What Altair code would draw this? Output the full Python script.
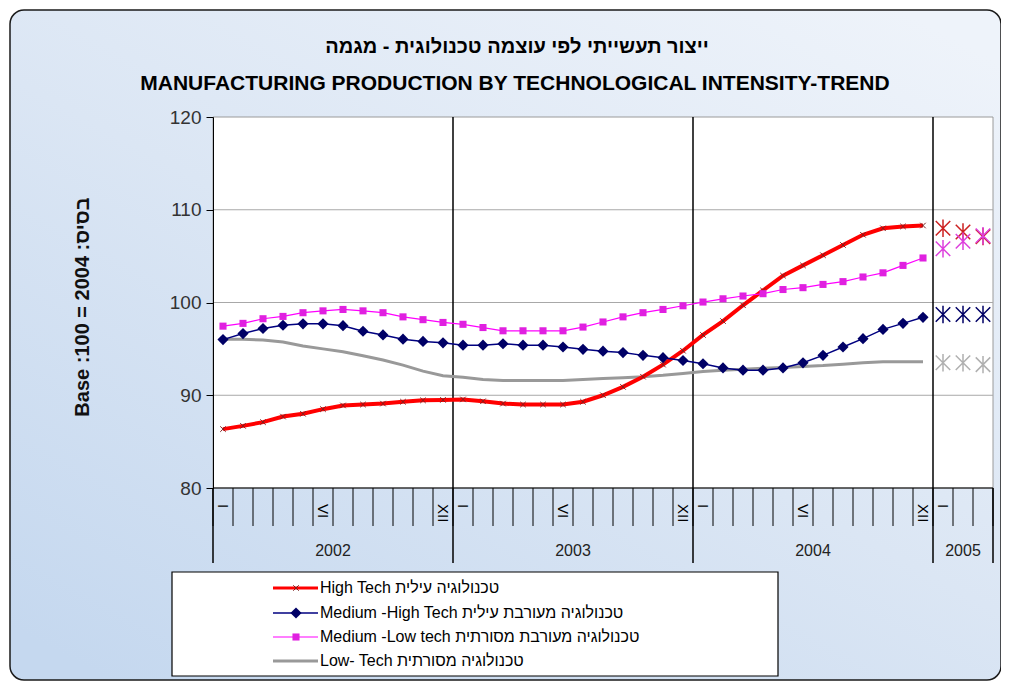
import altair as alt
import pandas as pd

FONT = "Liberation Sans"

# ---------------- data ----------------
series = ["High Tech", "Medium -High Tech", "Medium -Low tech", "Low- Tech"]
legend_text = [
    "High Tech  טכנולוגיה עילית",
    " Medium -High Tech  טכנולוגיה מעורבת עילית",
    "Medium -Low tech טכנולוגיה מעורבת מסורתית",
    "Low- Tech  טכנולוגיה מסורתית",
]
title_he = "ייצור תעשייתי לפי עוצמה טכנולוגית - מגמה"
title_en = "MANUFACTURING PRODUCTION BY TECHNOLOGICAL INTENSITY-TREND"
y_title = "Base :100 = 2004  :בסיס"

years = ["2002", "2003", "2004", "2005"]
months_in_year = [12, 12, 12, 3]
roman = {0: "I", 5: "VI", 11: "XII"}
y_ticks = [80, 90, 100, 110, 120]
grid_vals = [90, 100, 110]

# monthly trend, Jan 2002 - Dec 2004
high_tech = [86.35, 86.7, 87.1, 87.7, 88.0, 88.5, 88.9, 89.0, 89.1, 89.3, 89.45, 89.5,
             89.55, 89.35, 89.1, 89.0, 89.0, 89.0, 89.3, 90.0, 90.9, 92.0, 93.3, 94.8,
             96.5, 98.0, 99.7, 101.3, 102.9, 104.0, 105.1, 106.2, 107.3, 108.0, 108.2, 108.3]
med_high = [96.0, 96.65, 97.2, 97.55, 97.7, 97.7, 97.5, 96.9, 96.5, 96.05, 95.8, 95.65,
            95.4, 95.4, 95.55, 95.4, 95.4, 95.2, 94.95, 94.75, 94.6, 94.3, 94.05, 93.75,
            93.4, 92.95, 92.7, 92.7, 92.95, 93.5, 94.3, 95.2, 96.1, 97.1, 97.75, 98.4]
med_low = [97.45, 97.75, 98.25, 98.5, 98.9, 99.1, 99.25, 99.1, 98.9, 98.45, 98.15, 97.85,
           97.65, 97.3, 96.95, 96.95, 96.95, 96.95, 97.35, 97.9, 98.45, 98.9, 99.25, 99.65,
           100.05, 100.4, 100.7, 100.95, 101.4, 101.6, 101.95, 102.25, 102.75, 103.2, 104.0, 104.8]
low_tech = [96.05, 96.05, 95.95, 95.75, 95.3, 95.0, 94.7, 94.25, 93.8, 93.25, 92.6, 92.1,
            91.95, 91.7, 91.6, 91.6, 91.6, 91.6, 91.7, 91.8, 91.9, 92.0, 92.15, 92.35,
            92.55, 92.7, 92.8, 92.9, 93.0, 93.1, 93.2, 93.35, 93.5, 93.6, 93.6, 93.6]

# 2005 points (Jan - Mar)
high_tech_2005 = [108.0, 107.6, 107.1]
med_high_2005 = [98.7, 98.7, 98.7]
med_low_2005 = [105.8, 106.6, 107.2]
low_tech_2005 = [93.5, 93.5, 93.3]

# ---------------- tables ----------------
trend_vals = [high_tech, med_high, med_low, low_tech]
vals_2005 = [high_tech_2005, med_high_2005, med_low_2005, low_tech_2005]

def trend_df(k):
    return pd.DataFrame({"t": [i + 0.5 for i in range(len(trend_vals[k]))],
                         "v": trend_vals[k], "series": series[k]})

def df2005(k):
    return pd.DataFrame({"t": [36 + i + 0.5 for i in range(len(vals_2005[k]))],
                         "v": vals_2005[k], "series": series[k]})

n_months = sum(months_in_year)
month_rows, year_rows = [], []
start = 0
for yi, n in enumerate(months_in_year):
    for m in range(n):
        if m in roman:
            month_rows.append({"t": start + m + 0.5, "lab": roman[m]})
    year_rows.append({"t": start + n / 2, "lab": years[yi]})
    start += n
month_df = pd.DataFrame(month_rows)
year_df = pd.DataFrame(year_rows)
bounds_df = pd.DataFrame({"b": list(range(n_months + 1))})
inner_sep = pd.DataFrame({"b": [12, 24, 36]})
outer_sep = pd.DataFrame({"b": [0, n_months]})
grid_df = pd.DataFrame({"g": grid_vals})
one = pd.DataFrame({"a": [0]})

# ---------------- scales ----------------
W, H = 780, 371
xs = alt.Scale(domain=[0, n_months], nice=False, zero=False)
ys = alt.Scale(domain=[80, 120], nice=False, zero=False)
yaxis = alt.Axis(values=y_ticks, title=None, grid=False, domainColor="black",
                 tickColor="black", tickSize=7, labelFontSize=19, labelColor="#333333",
                 labelFont=FONT, labelPadding=5, zindex=1)

def X(f):
    return alt.X(f, scale=xs, axis=None)

def Y(f):
    return alt.Y(f, scale=ys, axis=yaxis)

X_PATH = "M-1,-1L1,1M-1,1L1,-1"
STAR_PATH = "M-1,-1L1,1M-1,1L1,-1M0,-1.2L0,1.2"

layers = []

# frame with gradient
layers.append(alt.Chart(one).mark_rect(
    cornerRadius=14, stroke="#1a1a1a", strokeWidth=1.5,
    fill=alt.LinearGradient(gradient="linear", x1=0.9, y1=0, x2=0.1, y2=1,
                            stops=[alt.GradientStop(color="#eef3fa", offset=0),
                                   alt.GradientStop(color="#dbe6f4", offset=0.5),
                                   alt.GradientStop(color="#c5d8ef", offset=1)])
).encode(x=alt.value(-203), x2=alt.value(788), y=alt.value(-107), y2=alt.value(563)))

# plot area
layers.append(alt.Chart(one).mark_rect(fill="white", stroke="#9a9a9a", strokeWidth=1).encode(
    x=alt.value(0), x2=alt.value(W), y=alt.value(0), y2=alt.value(H)))

# gridlines
layers.append(alt.Chart(grid_df).mark_rule(color="#a8a8a8", strokeWidth=1).encode(
    y=Y("g:Q"), x=alt.value(0), x2=alt.value(W)))

# month ticks
layers.append(alt.Chart(bounds_df).mark_rule(color="black", strokeWidth=1).encode(
    x=X("b:Q"), y=alt.value(H), y2=alt.value(H + 38)))
# x axis line
layers.append(alt.Chart(one).mark_rule(color="black", strokeWidth=1.2).encode(
    x=alt.value(0), x2=alt.value(W), y=alt.value(H)))
# year separators
layers.append(alt.Chart(inner_sep).mark_rule(color="black", strokeWidth=1.5).encode(
    x=X("b:Q"), y=alt.value(0), y2=alt.value(H + 75)))
layers.append(alt.Chart(outer_sep).mark_rule(color="black", strokeWidth=1.5).encode(
    x=X("b:Q"), y=alt.value(H), y2=alt.value(H + 75)))

# month labels
layers.append(alt.Chart(month_df).mark_text(angle=90, align="left", baseline="middle",
                                            fontSize=15, font=FONT, color="black").encode(
    x=X("t:Q"), y=alt.value(H + 16), text="lab:N"))
# year labels
layers.append(alt.Chart(year_df).mark_text(align="center", baseline="middle",
                                           fontSize=16, font=FONT, color="#222222").encode(
    x=X("t:Q"), y=alt.value(H + 63), text="lab:N"))

# data lines
layers.append(alt.Chart(trend_df(3)).mark_line(color="#999999", strokeWidth=3).encode(
    x=X("t:Q"), y=Y("v:Q")))
layers.append(alt.Chart(trend_df(0)).mark_line(color="#ff0000", strokeWidth=4).encode(
    x=X("t:Q"), y=Y("v:Q")))
layers.append(alt.Chart(trend_df(0)).mark_point(shape=X_PATH, filled=False, color="#7a2020",
                                                size=30, strokeWidth=1, opacity=1).encode(
    x=X("t:Q"), y=Y("v:Q")))
layers.append(alt.Chart(trend_df(1)).mark_line(color="#000080", strokeWidth=1.5).encode(
    x=X("t:Q"), y=Y("v:Q")))
layers.append(alt.Chart(trend_df(1)).mark_point(shape="diamond", filled=True, color="#000066",
                                                size=125, opacity=1).encode(
    x=X("t:Q"), y=Y("v:Q")))
layers.append(alt.Chart(trend_df(2)).mark_line(color="#ff00ff", strokeWidth=1.2).encode(
    x=X("t:Q"), y=Y("v:Q")))
layers.append(alt.Chart(trend_df(2)).mark_point(shape="square", filled=True, color="#e020e0",
                                                size=50, opacity=1).encode(
    x=X("t:Q"), y=Y("v:Q")))

# 2005 asterisks
star_colors = ["#cc2020", "#000066", "#dd40dd", "#b0b0b0"]
for k in [3, 0, 1, 2]:
    layers.append(alt.Chart(df2005(k)).mark_point(shape=STAR_PATH, filled=False,
                                                  color=star_colors[k], size=210,
                                                  strokeWidth=1.5, opacity=1).encode(
        x=X("t:Q"), y=Y("v:Q")))

# y axis title
layers.append(alt.Chart(one).mark_text(angle=270, align="center", baseline="middle",
                                       fontSize=20, fontWeight="bold", font=FONT,
                                       color="#111111").encode(
    x=alt.value(-130), y=alt.value(190), text=alt.value(y_title)))

# titles
layers.append(alt.Chart(one).mark_text(align="center", baseline="middle", fontSize=20,
                                       fontWeight="bold", font=FONT, color="black").encode(
    x=alt.value(304), y=alt.value(-70), text=alt.value(title_he)))
layers.append(alt.Chart(one).mark_text(align="center", baseline="middle", fontSize=21,
                                       fontWeight="bold", font=FONT, color="black").encode(
    x=alt.value(302), y=alt.value(-33), text=alt.value(title_en)))

# legend
layers.append(alt.Chart(one).mark_rect(fill="white", stroke="black", strokeWidth=1.2).encode(
    x=alt.value(-41), x2=alt.value(565), y=alt.value(455), y2=alt.value(559)))
row_y = [471, 496, 520, 544]
leg_line = [("#ff0000", 3), ("#000080", 1.5), ("#ff00ff", 1.2), ("#999999", 3)]
for i in range(4):
    layers.append(alt.Chart(one).mark_rule(color=leg_line[i][0], strokeWidth=leg_line[i][1]).encode(
        x=alt.value(60), x2=alt.value(105), y=alt.value(row_y[i])))
    layers.append(alt.Chart(one).mark_text(align="left", baseline="middle", fontSize=16,
                                           font=FONT, color="black").encode(
        x=alt.value(107), y=alt.value(row_y[i]), text=alt.value(legend_text[i])))
layers.append(alt.Chart(one).mark_point(shape=X_PATH, filled=False, color="#7a2020", size=30,
                                        strokeWidth=1, opacity=1).encode(
    x=alt.value(83), y=alt.value(row_y[0])))
layers.append(alt.Chart(one).mark_point(shape="diamond", filled=True, color="#000066", size=125,
                                        opacity=1).encode(
    x=alt.value(83), y=alt.value(row_y[1])))
layers.append(alt.Chart(one).mark_point(shape="square", filled=True, color="#e020e0", size=50,
                                        opacity=1).encode(
    x=alt.value(83), y=alt.value(row_y[2])))

chart = alt.layer(*layers).properties(
    width=W, height=H,
    autosize=alt.AutoSizeParams(type="none"),
    padding={"left": 205, "top": 109, "right": 8, "bottom": 193},
).configure(background="white", font=FONT, view=alt.ViewConfig(strokeWidth=0))

chart.save("out.html", embed_options={"renderer": "svg", "actions": False})
